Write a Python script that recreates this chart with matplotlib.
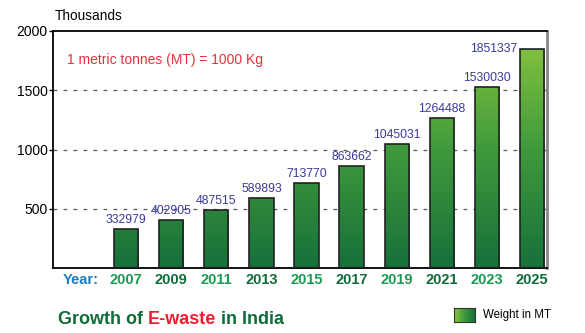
import numpy as np
import matplotlib.pyplot as plt
from matplotlib.colors import LinearSegmentedColormap

plt.rcParams['font.family'] = ['Liberation Sans', 'DejaVu Sans']

# E-waste generated in India, metric tonnes
years = ["2007", "2009", "2011", "2013", "2015", "2017", "2019", "2021", "2023", "2025"]
weight_mt = [332979, 402905, 487515, 589893, 713770, 863662, 1045031, 1264488, 1530030, 1851337]
year_colors = ["#1a9a52", "#0f6b3a"] * 5

weight_k = np.array(weight_mt) / 1000.0
pos = np.arange(1, len(years) + 1)

fig = plt.figure(figsize=(5.85, 3.33), dpi=100)
ax = fig.add_axes([53 / 585, 1 - 268 / 333, 494 / 585, 237 / 333])
ax.set_xlim(-0.62, 10.33)
ax.set_ylim(0, 2000)

green = LinearSegmentedColormap.from_list("g", ["#17703a", "#3f9a3c", "#8cc63e"])
grad = np.linspace(0, 1, 256).reshape(-1, 1)

bars = ax.bar(pos, weight_k, width=0.54, facecolor="none", edgecolor="#222222",
              linewidth=1.2, zorder=3)
for b in bars:
    im = ax.imshow(grad, cmap=green, origin="lower", aspect="auto",
                   extent=(b.get_x(), b.get_x() + b.get_width(), 0, 2000), zorder=2)
    im.set_clip_path(b)

for i, (p, v, w) in enumerate(zip(pos, weight_k, weight_mt)):
    if i == len(years) - 1:
        ax.text(p - 0.32, v, str(w), ha="right", va="center", color="#3a3a9e", fontsize=8.8)
    else:
        ax.text(p, v + 25, str(w), ha="center", va="bottom", color="#3a3a9e", fontsize=8.8)

# gridlines
for y in [500, 1000, 1500]:
    ax.axhline(y, color="#555555", linestyle=(0, (3, 5)), linewidth=0.9, zorder=1)

ax.set_xticks([])
ax.set_yticks([500, 1000, 1500, 2000])
ax.set_yticklabels(["500", "1000", "1500", "2000"], fontsize=10)
ax.tick_params(axis="y", length=3, width=1, pad=1)
for s in ["left", "bottom", "top"]:
    ax.spines[s].set_linewidth(1.3)
ax.spines["right"].set_color("#888888")
ax.spines["right"].set_linewidth(2)

# year labels under the bars
ax.text(0, -100, "Year:", ha="center", va="center", color="#1a7cc4",
        fontsize=10.5, fontweight="bold")
for p, yr, c in zip(pos, years, year_colors):
    ax.text(p, -100, yr, ha="center", va="center", color=c, fontsize=10.5, fontweight="bold")

fig.text(55 / 585, 1 - 16 / 333, "Thousands", fontsize=9.8, va="center")
fig.text(67 / 585, 1 - 60 / 333, "1 metric tonnes (MT) = 1000 Kg", fontsize=10,
         color="#e8303a", va="center")

# title with highlighted word
t1 = fig.text(58 / 585, 1 - 319 / 333, "Growth of ", fontsize=13, fontweight="bold",
              color="#0f6b3a", va="center")
fig.canvas.draw()
r = fig.canvas.get_renderer()
bb = t1.get_window_extent(r)
t2 = fig.text(bb.x1 / fig.bbox.width, 1 - 319 / 333, "E-waste", fontsize=13,
              fontweight="bold", color="#ee1c2e", va="center")
bb = t2.get_window_extent(r)
fig.text(bb.x1 / fig.bbox.width, 1 - 319 / 333, " in India", fontsize=13,
         fontweight="bold", color="#0f6b3a", va="center")

# legend swatch
lax = fig.add_axes([454 / 585, 1 - 322 / 333, 21 / 585, 14 / 333])
lax.imshow(np.linspace(1, 0, 256).reshape(1, -1), cmap=green, aspect="auto")
lax.set_xticks([])
lax.set_yticks([])
for s in lax.spines.values():
    s.set_color("#333333")
fig.text(483 / 585, 1 - 315 / 333, "Weight in MT", fontsize=8.3, va="center")

fig.savefig("out.png", dpi=100)
